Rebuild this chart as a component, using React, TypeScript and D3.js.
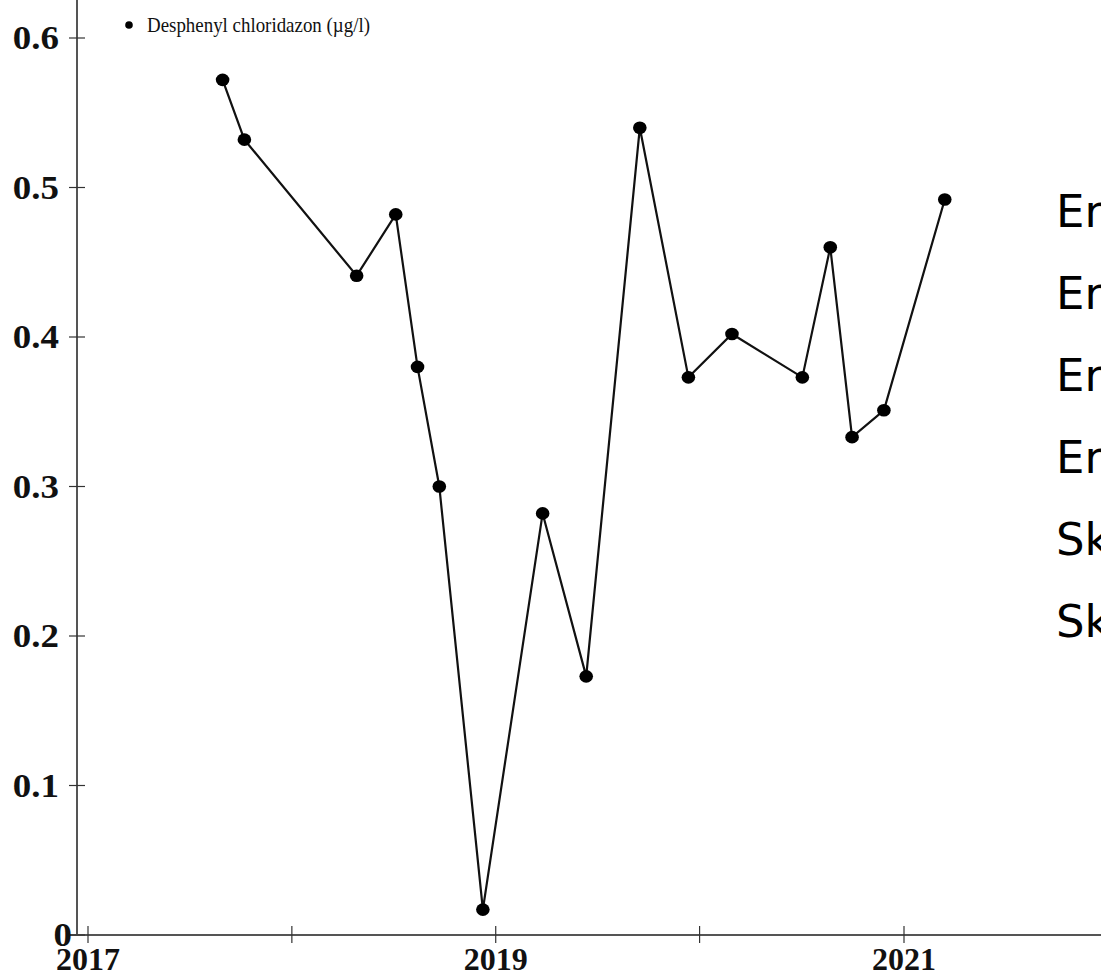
import React from "react";
import * as d3 from "d3";

const dates: string[] = [
  "2017-08-30", "2017-10-08", "2018-04-27", "2018-07-06", "2018-08-14", "2018-09-22",
  "2018-12-09", "2019-03-26", "2019-06-12", "2019-09-16", "2019-12-12", "2020-02-28",
  "2020-07-03", "2020-08-22", "2020-09-30", "2020-11-26", "2021-03-15",
];
const values: number[] = [
  0.572, 0.532, 0.441, 0.482, 0.380, 0.300, 0.017, 0.282, 0.173, 0.540, 0.373, 0.402,
  0.373, 0.460, 0.333, 0.351, 0.492,
];
const yTicks: number[] = [0, 0.1, 0.2, 0.3, 0.4, 0.5, 0.6];
const yTickLabels: string[] = ["0", "0.1", "0.2", "0.3", "0.4", "0.5", "0.6"];
const xTickYears: number[] = [2017, 2018, 2019, 2020, 2021];
const xLabelYears: number[] = [2017, 2019, 2021];
const seriesName = "Desphenyl chloridazon (\u00b5g/l)";
const sideLabels: string[] = ["En", "En", "En", "En", "Sk", "Sk"];

const W = 1101;
const H = 974;

export default function App() {
  const parse = d3.timeParse("%Y-%m-%d");
  const data = dates.map((d, i) => ({ date: parse(d) as Date, value: values[i] }));

  const x = d3
    .scaleTime()
    .domain([new Date(2017, 0, 1), new Date(2021, 0, 1)])
    .range([88, 904]);
  const y = d3.scaleLinear().domain([0, 0.6]).range([935, 38]);
  const side = d3.scalePoint<number>().domain(d3.range(sideLabels.length)).range([227, 637]);

  const line = d3
    .line<{ date: Date; value: number }>()
    .x((d) => x(d.date))
    .y((d) => y(d.value));

  const axisX = 77;
  const axisY = y(0);
  const serif = "'Liberation Serif', 'Times New Roman', serif";

  return (
    <svg
      width={W}
      height={H}
      style={{ position: "absolute", left: 0, top: 0, background: "#fff" }}
    >
      <rect x={0} y={0} width={W} height={H} fill="#fff" />
      {/* axes */}
      <line x1={axisX} x2={axisX} y1={0} y2={axisY} stroke="#555" strokeWidth={2} />
      <line x1={70} x2={W} y1={axisY} y2={axisY} stroke="#555" strokeWidth={2} />
      {yTicks.map((t, i) => (
        <g key={"y" + i}>
          <line x1={axisX - 8} x2={axisX + 8} y1={y(t)} y2={y(t)} stroke="#333" strokeWidth={1.2} />
          <text
            transform={`translate(${i === 0 ? 72 : 59},${y(t) + 11}) scale(1.12,1)`}
            textAnchor="end"
            fontFamily={serif}
            fontWeight="bold"
            fontSize={33}
            fill="#111"
          >
            {yTickLabels[i]}
          </text>
        </g>
      ))}
      {xTickYears.map((yr) => {
        const px = x(new Date(yr, 0, 1));
        return (
          <line key={"xt" + yr} x1={px} x2={px} y1={axisY - 9} y2={axisY + 8} stroke="#333" strokeWidth={1.2} />
        );
      })}
      {xLabelYears.map((yr) => (
        <text
          key={"xl" + yr}
          x={x(new Date(yr, 0, 1))}
          y={axisY + 35}
          textAnchor="middle"
          fontFamily={serif}
          fontWeight="bold"
          fontSize={32}
          fill="#111"
        >
          {yr}
        </text>
      ))}
      {/* series */}
      <path d={line(data) || ""} fill="none" stroke="#111" strokeWidth={2.2} />
      {data.map((d, i) => (
        <ellipse key={"p" + i} cx={x(d.date)} cy={y(d.value)} rx={6.8} ry={6.3} fill="#000" />
      ))}
      {/* legend */}
      <circle cx={129} cy={25} r={3.8} fill="#000" />
      <text
        transform="translate(147,32) scale(0.86,1)"
        fontFamily={serif}
        fontSize={22}
        fill="#111"
      >
        {seriesName}
      </text>
      {/* clipped right labels */}
      {sideLabels.map((s, i) => (
        <text
          key={"s" + i}
          x={1056}
          y={side(i)}
          fontFamily="'DejaVu Sans', Verdana, sans-serif"
          fontSize={45}
          fill="#000"
        >
          {s}
        </text>
      ))}
    </svg>
  );
}
